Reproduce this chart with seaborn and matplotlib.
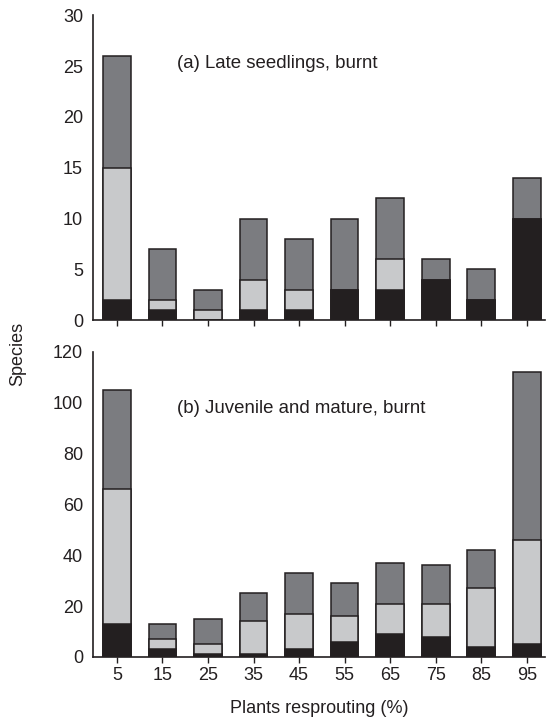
import numpy as np
import pandas as pd
import matplotlib
matplotlib.use("Agg")
import matplotlib.pyplot as plt
import seaborn as sns

# Bins of plants resprouting (%)
bins = ["5", "15", "25", "35", "45", "55", "65", "75", "85", "95"]

# (a) Late seedlings, burnt: segment counts (bottom -> top)
a_black = [2, 1, 0, 1, 1, 3, 3, 4, 2, 10]
a_light = [13, 1, 1, 3, 2, 0, 3, 0, 0, 0]
a_dark = [11, 5, 2, 6, 5, 7, 6, 2, 3, 4]

# (b) Juvenile and mature, burnt
b_black = [13, 3, 1, 1, 3, 6, 9, 8, 4, 5]
b_light = [53, 4, 4, 13, 14, 10, 12, 13, 23, 41]
b_dark = [39, 6, 10, 11, 16, 13, 16, 15, 15, 66]

c_black = "#231f20"
c_light = "#c8c9cb"
c_dark = "#7b7c80"

sns.set_style("ticks")
plt.rcParams["font.family"] = ["Liberation Sans", "DejaVu Sans"]
plt.rcParams["font.size"] = 13

fig = plt.figure(figsize=(5.46, 7.23), dpi=100)
ax1 = fig.add_axes([0.170, 0.557, 0.828, 0.422])
ax2 = fig.add_axes([0.170, 0.0913, 0.828, 0.422])


def stacked(ax, black, light, dark, ymax, step, label, label_y):
    black = np.array(black)
    light = np.array(light)
    dark = np.array(dark)
    layers = [
        (black + light + dark, c_dark),
        (black + light, c_light),
        (black, c_black),
    ]
    for vals, col in layers:
        df = pd.DataFrame({"bin": bins, "n": vals})
        sns.barplot(data=df, x="bin", y="n", order=bins, color=col,
                    saturation=1, width=0.61, edgecolor="#231f20",
                    linewidth=1.1, ax=ax)
    ax.set_xlim(-0.53, 9.4)
    ax.set_ylim(0, ymax)
    ax.set_yticks(np.arange(0, ymax + 1, step))
    ax.set_xlabel("")
    ax.set_ylabel("")
    for s in ["top", "right"]:
        ax.spines[s].set_visible(False)
    for s in ["left", "bottom"]:
        ax.spines[s].set_linewidth(1.2)
        ax.spines[s].set_color("#231f20")
    ax.tick_params(axis="y", length=0, pad=7, labelsize=13, colors="#231f20")
    ax.tick_params(axis="x", length=4, width=1, direction="out",
                   labelsize=13, colors="#231f20")
    ax.text(0.186, label_y, label, transform=ax.transAxes, fontsize=13.4,
            va="center", ha="left", color="#231f20")


stacked(ax1, a_black, a_light, a_dark, 30, 5, "(a) Late seedlings, burnt", 0.84)
stacked(ax2, b_black, b_light, b_dark, 120, 20, "(b) Juvenile and mature, burnt", 0.816)
ax1.tick_params(axis="x", labelbottom=False)
ax2.set_xlabel("Plants resprouting (%)", fontsize=13, color="#231f20", labelpad=11)

fig.text(0.033, 0.51, "Species", rotation=90, va="center", ha="center",
         fontsize=13, color="#231f20")

fig.savefig("out.png", dpi=100)
